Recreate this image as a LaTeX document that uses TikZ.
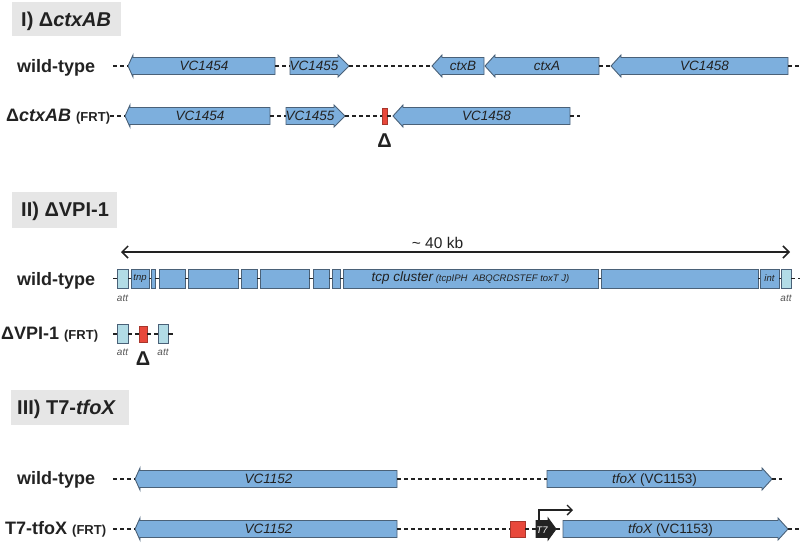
\documentclass[tikz,border=0pt]{standalone}
\usepackage{fontspec}
\setmainfont{Liberation Sans}
\usetikzlibrary{arrows.meta}
\definecolor{geneblue}{HTML}{7DAFDD}
\definecolor{geneline}{HTML}{4A6178}
\definecolor{attblue}{HTML}{B2DCE6}
\definecolor{delred}{HTML}{E8483B}
\definecolor{delline}{HTML}{A8362C}
\definecolor{titlegray}{HTML}{E6E6E6}
\definecolor{inkc}{HTML}{222222}
\definecolor{attgray}{HTML}{555555}
\tikzset{
  gene/.style={fill=geneblue, draw=geneline, line width=0.9pt, line join=miter},
  promo/.style={fill=inkc, draw=inkc, line width=0.9pt, line join=miter},
  gbox/.style={inner sep=0pt, minimum height=17pt, draw=none},
  glabel/.style={font=\fontsize{13.5}{15}\selectfont\itshape, text=inkc, inner sep=0pt},
  rowlab/.style={font=\fontsize{18}{20}\selectfont\bfseries, text=inkc, inner sep=0pt, anchor=base west},
  titlebox/.style={fill=titlegray, inner sep=0pt, anchor=north west},
  titletext/.style={font=\fontsize{20}{22}\selectfont\bfseries, text=inkc, inner sep=0pt, anchor=base west},
  bb/.style={draw=inkc, line width=1.2pt, dash pattern=on 4pt off 3pt},
  bbsolid/.style={draw=inkc, line width=1.2pt},
  seg/.style={fill=geneblue, draw=geneline, line width=0.9pt, inner sep=0pt, minimum height=19pt, font=\fontsize{9.5}{10}\selectfont\itshape, text=inkc},
  attseg/.style={seg, fill=attblue},
  delbox/.style={fill=delred, draw=delline, line width=0.8pt, inner sep=0pt, minimum height=16pt},
  smalllab/.style={font=\fontsize{10}{11}\selectfont\itshape, text=attgray, inner sep=0pt, anchor=base},
  deltalab/.style={font=\fontsize{20}{21}\selectfont\bfseries, text=inkc, inner sep=0pt, anchor=base},
  dimline/.style={line width=1.5pt, draw=inkc, {Straight Barb[length=6pt,width=12pt]}-{Straight Barb[length=6pt,width=12pt]}},
  bent/.style={line width=1.4pt, draw=inkc, -{Straight Barb[length=5pt,width=10pt]}},
}
% right-pointing gene: name, tail x, tip x, y, head length, label
\newcommand\geneR[7][gene]{%
  \filldraw[#1] (#3,{#5-8.5}) -- ({#4-#6},{#5-8.5}) -- ({#4-#6},{#5-11}) -- (#4,#5) -- ({#4-#6},{#5+11}) -- ({#4-#6},{#5+8.5}) -- (#3,{#5+8.5}) -- cycle;
  \node[gbox, minimum width={(#4-#3)*1pt}] (#2) at ({(#3+#4)/2},#5) {};
  \node[glabel, anchor=base] at ({(#3+#4-#6)/2},{#5+4.8}) {#7};
}
% left-pointing gene: name, tip x, tail x, y, head length, label
\newcommand\geneL[7][gene]{%
  \filldraw[#1] (#4,{#5-8.5}) -- ({#3+#6},{#5-8.5}) -- ({#3+#6},{#5-11}) -- (#3,#5) -- ({#3+#6},{#5+11}) -- ({#3+#6},{#5+8.5}) -- (#4,{#5+8.5}) -- cycle;
  \node[gbox, minimum width={(#4-#3)*1pt}] (#2) at ({(#3+#4)/2},#5) {};
  \node[glabel, anchor=base] at ({(#3+#6+#4)/2},{#5+4.8}) {#7};
}
% rectangular segment: name, x1, x2, y, text
\newcommand\seg[6][seg]{%
  \node[#1, minimum width={(#4-#3)*1pt}] (#2) at ({(#3+#4)/2},#5) {#6};
}
\begin{document}
\begin{tikzpicture}[x=1pt, y=-1pt]
\useasboundingbox (0,0) rectangle (800,542);

% ---------------- Section I ----------------
\node[titlebox, minimum width=109pt, minimum height=34pt] (t1) at (12,2) {};
\node[titletext] (tt1) at (21,26) {I) Δ\textit{ctxAB}};

\node[rowlab] (r11) at (17,72.7) {wild-type};
\coordinate (s11) at (113,66);
\coordinate (e11) at (800,66);
\geneL{g11}{128}{275}{66}{5}{VC1454}
\geneR{g12}{290}{349}{66}{11}{VC1455}
\geneL{g13}{432}{484}{66}{10}{ctxB}
\geneL{g14}{485}{599}{66}{10}{ctxA}
\geneL{g15}{611}{788}{66}{10}{VC1458}
\draw[bb] (s11) -- (g11.west);
\draw[bb] (g11.east) -- (g12.west);
\draw[bb] (g12.east) -- (g13.west);
\draw[bb] (g14.east) -- (g15.west);
\draw[bb] (g15.east) -- (e11);

\node[rowlab] (r12) at (6,121) {Δ\textit{ctxAB} {\fontsize{13}{14}\selectfont (FRT)}};
\coordinate (s12) at (110,116);
\coordinate (e12) at (580,116);
\geneL{g21}{125}{270}{116}{5}{VC1454}
\geneR{g22}{286}{345}{116}{11}{VC1455}
\node[delbox, minimum width=5pt] (d1) at (384.5,116) {};
\geneL{g23}{393}{570}{116}{10}{VC1458}
\draw[bb] (s12) -- (g21.west);
\draw[bb] (g21.east) -- (g22.west);
\draw[bb] (g22.east) -- (d1.west);
\draw[bb] (d1.east) -- (g23.west);
\draw[bb] (g23.east) -- (e12);
\node[deltalab] (dl1) at (384.5,147) {Δ};

% ---------------- Section II ----------------
\node[titlebox, minimum width=105pt, minimum height=36pt] (t2) at (12,192) {};
\node[titletext] (tt2) at (21,216.7) {II) ΔVPI-1};

\coordinate (k1) at (121,252);
\coordinate (k2) at (790,252);
\draw[dimline] (k1) -- (k2);
\node[font=\fontsize{15.5}{16}\selectfont, text=inkc, inner sep=0pt, anchor=base] (kb) at (437.5,248) {\textasciitilde\ 40 kb};

\node[rowlab] (r21) at (17,285.7) {wild-type};
\coordinate (s21) at (113,278.5);
\coordinate (e21) at (800,278.5);
\seg[attseg]{a0}{117}{128}{278.5}{}
\seg{v1}{131}{149}{278.5}{tnp}
\seg{v2}{151}{155}{278.5}{}
\seg{v3}{159}{185}{278.5}{}
\seg{v4}{188}{238}{278.5}{}
\seg{v5}{241}{257}{278.5}{}
\seg{v6}{260}{309}{278.5}{}
\seg{v7}{313}{329}{278.5}{}
\seg{v8}{332}{340}{278.5}{}
\seg{v9}{343}{598}{278.5}{{\fontsize{13.5}{14}\selectfont tcp cluster} (tcpIPH\ \ ABQCRDSTEF toxT J)}
\seg{v10}{601}{758}{278.5}{}
\seg{v11}{760}{779}{278.5}{int}
\seg[attseg]{a1}{781}{791}{278.5}{}
\draw[bbsolid] (s21) -- (a0.west);
\foreach \p/\q in {a0/v1, v1/v2, v2/v3, v3/v4, v4/v5, v5/v6, v6/v7, v7/v8, v8/v9, v9/v10, v10/v11, v11/a1}
  \draw[bbsolid] (\p.east) -- (\q.west);
\draw[bb] (a1.east) -- (e21);
\node[smalllab] (al1) at (122.5,301.5) {att};
\node[smalllab] (al2) at (786,301.5) {att};

\node[rowlab] (r22) at (1,339) {ΔVPI-1 {\fontsize{13}{14}\selectfont (FRT)}};
\coordinate (s22) at (113,334);
\coordinate (e22) at (173,334);
\seg[attseg]{b0}{117}{128}{334}{}
\node[delbox, minimum width=8pt] (d2) at (143,334) {};
\seg[attseg]{b1}{158}{168}{334}{}
\draw[bbsolid] (s22) -- (b0.west);
\draw[bb] (b0.east) -- (d2.west);
\draw[bb] (d2.east) -- (b1.west);
\draw[bbsolid] (b1.east) -- (e22);
\node[smalllab] (al3) at (122.5,355.5) {att};
\node[smalllab] (al4) at (163,355.5) {att};
\node[deltalab] (dl2) at (143,365) {Δ};

% ---------------- Section III ----------------
\node[titlebox, minimum width=118pt, minimum height=35pt] (t3) at (11,390) {};
\node[titletext] (tt3) at (17,414.3) {III) T7-\textit{tfoX}};

\node[rowlab] (r31) at (17,484) {wild-type};
\coordinate (s31) at (113,479);
\coordinate (e31) at (782,479);
\geneL{g31}{135}{397}{479}{5}{VC1152}
\geneR{g32}{547}{772}{479}{10}{tfoX \textup{(VC1153)}}
\draw[bb] (s31) -- (g31.west);
\draw[bb] (g31.east) -- (g32.west);
\draw[bb] (g32.east) -- (e31);

\node[rowlab] (r32) at (5,534) {T7-tfoX {\fontsize{13}{14}\selectfont (FRT)}};
\coordinate (s32) at (113,529);
\coordinate (e32) at (800,529);
\geneL{g33}{135}{397}{529}{5}{VC1152}
\node[delbox, minimum width=15pt] (d3) at (517.5,529) {};
\geneR[promo]{t7}{536}{556}{529}{8}{\color{white}\fontsize{9.5}{10}\selectfont T7}
\geneR{g34}{563}{788}{529}{10}{tfoX \textup{(VC1153)}}
\draw[bb] (s32) -- (g33.west);
\draw[bb] (g33.east) -- (d3.west);
\draw[bb] (d3.east) -- (t7.west);
\draw[bb] (t7.east) -- (g34.west);
\draw[bb] (g34.east) -- (e32);
\coordinate (prtip) at (573,510);
\draw[bent] ([xshift=3pt]t7.north west) |- (prtip);
\end{tikzpicture}
\end{document}
